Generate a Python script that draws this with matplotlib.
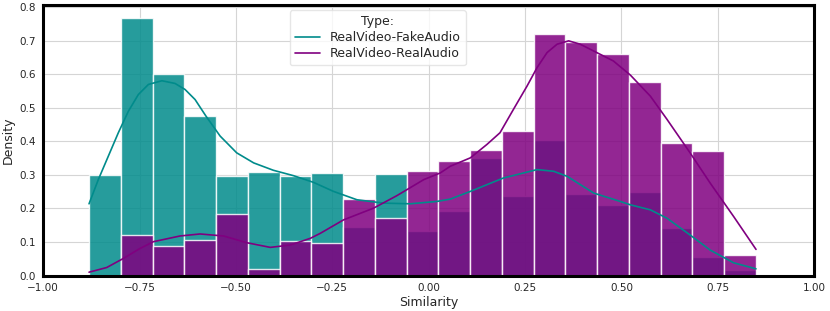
import numpy as np
import matplotlib
matplotlib.use('Agg')
import matplotlib.pyplot as plt
import seaborn as sns

sns.set_style('whitegrid')
plt.rcParams['font.family'] = ['DejaVu Sans']

# histogram range (21 bins) and density heights
x_min, x_max, n_bins = -0.881, 0.849, 21
fake_heights = [0.299, 0.768, 0.600, 0.477, 0.296, 0.309, 0.297, 0.306, 0.145, 0.304, 0.134,
                0.194, 0.352, 0.236, 0.403, 0.242, 0.211, 0.250, 0.142, 0.054, 0.017]
real_heights = [0.000, 0.120, 0.089, 0.105, 0.183, 0.019, 0.102, 0.096, 0.227, 0.171, 0.311,
                0.343, 0.373, 0.430, 0.720, 0.698, 0.662, 0.576, 0.395, 0.371, 0.061]

# kde curves
fake_kde_x = [-0.881, -0.857, -0.831, -0.805, -0.779, -0.753, -0.727, -0.692, -0.658, -0.632,
              -0.606, -0.578, -0.541, -0.498, -0.454, -0.403, -0.351, -0.299, -0.247, -0.186,
              -0.117, -0.048, 0.021, 0.056, 0.108, 0.194, 0.281, 0.324, 0.359, 0.428, 0.497,
              0.523, 0.575, 0.618, 0.678, 0.730, 0.791, 0.849]
fake_kde_y = [0.214, 0.286, 0.356, 0.426, 0.490, 0.540, 0.570, 0.581, 0.573, 0.555,
              0.525, 0.476, 0.416, 0.366, 0.336, 0.314, 0.298, 0.278, 0.251, 0.226,
              0.216, 0.214, 0.221, 0.228, 0.251, 0.291, 0.316, 0.311, 0.296, 0.246, 0.221,
              0.211, 0.196, 0.171, 0.121, 0.076, 0.038, 0.020]
real_kde_x = [-0.881, -0.835, -0.792, -0.750, -0.714, -0.645, -0.593, -0.532, -0.472, -0.411,
              -0.359, -0.307, -0.281, -0.221, -0.143, -0.083, -0.013, 0.030, 0.056, 0.108,
              0.151, 0.185, 0.220, 0.255, 0.281, 0.307, 0.333, 0.363, 0.393, 0.436, 0.479,
              0.523, 0.575, 0.618, 0.678, 0.730, 0.791, 0.849]
real_kde_y = [0.010, 0.024, 0.051, 0.080, 0.101, 0.118, 0.124, 0.118, 0.098, 0.084,
              0.091, 0.111, 0.126, 0.166, 0.201, 0.238, 0.286, 0.306, 0.326, 0.351,
              0.391, 0.426, 0.496, 0.565, 0.620, 0.665, 0.690, 0.700, 0.690, 0.665, 0.640,
              0.598, 0.535, 0.466, 0.366, 0.276, 0.176, 0.078]

labels = ['RealVideo-FakeAudio', 'RealVideo-RealAudio']
colors = ['darkcyan', 'purple']

fig, ax = plt.subplots(figsize=(8.3, 3.11), dpi=100)
fig.subplots_adjust(left=0.052, right=0.981, top=0.984, bottom=0.114)

edges = np.linspace(x_min, x_max, n_bins + 1)
width = edges[1] - edges[0]
for heights, c in zip([fake_heights, real_heights], colors):
    ax.bar(edges[:-1], heights, width=width, align='edge', color=c, alpha=0.85,
           edgecolor='white', linewidth=1.0)

ax.plot(fake_kde_x, fake_kde_y, color=colors[0], lw=1.2, label=labels[0])
ax.plot(real_kde_x, real_kde_y, color=colors[1], lw=1.2, label=labels[1])

ax.set_xlim(-1, 1)
ax.set_ylim(0, 0.807)
ax.set_xticks([-1.0, -0.75, -0.5, -0.25, 0.0, 0.25, 0.5, 0.75, 1.0])
ax.set_xticklabels(['−1.00', '−0.75', '−0.50', '−0.25', '0.00', '0.25', '0.50', '0.75', '1.00'])
ax.set_yticks(np.arange(0, 0.81, 0.1))
ax.tick_params(labelsize=7.5, pad=2)
ax.set_xlabel('Similarity', fontsize=9, labelpad=2)
ax.set_ylabel('Density', fontsize=9, labelpad=3)
ax.set_axisbelow(True)
ax.grid(True, color='#d5d5d5', lw=0.8)

for s in ax.spines.values():
    s.set_color('black')
    s.set_linewidth(2.2)

leg = ax.legend(title='Type:', loc='upper center', bbox_to_anchor=(0.434, 0.99),
                fontsize=9, title_fontsize=9, frameon=True, handlelength=2.0,
                borderaxespad=0.2, labelspacing=0.25)
leg.get_frame().set_edgecolor('#e0e0e0')

fig.savefig('out.png', dpi=100)
